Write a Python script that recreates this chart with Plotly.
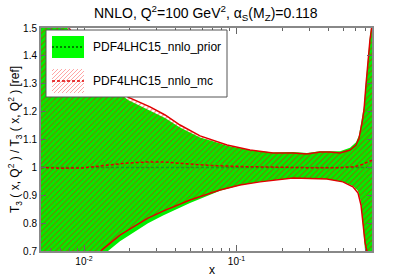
import plotly.graph_objects as go

# ---------------- data ----------------
# PDF4LHC15_nnlo_mc band (red hatched)
mc_x = [0.00522, 0.00697, 0.00941, 0.01274, 0.01945, 0.02710, 0.03400, 0.04263,
        0.05768, 0.07015, 0.08669, 0.1227, 0.1735, 0.2345, 0.2897, 0.3530,
        0.4105, 0.4775, 0.5550, 0.6080, 0.6360, 0.6650, 0.6855, 0.7065,
        0.7280, 0.7500, 0.7735]
mc_up = [1.80, 1.55, 1.439, 1.331, 1.252, 1.217, 1.188, 1.152,
         1.113, 1.098, 1.080, 1.062, 1.052, 1.052, 1.048, 1.055,
         1.055, 1.052, 1.062, 1.080, 1.105, 1.159, 1.206, 1.296,
         1.385, 1.457, 1.51]

mc_lo_x = [0.00522, 0.00697, 0.00941, 0.01312, 0.01437, 0.01721, 0.02094, 0.02628,
           0.03296, 0.04954, 0.07793, 0.1054, 0.1426, 0.2345, 0.3917, 0.4986,
           0.5803, 0.6266, 0.6553, 0.6754, 0.6961, 0.7175, 0.7500, 0.7735]
mc_lo = [0.30, 0.45, 0.60, 0.704, 0.722, 0.757, 0.786, 0.818,
         0.843, 0.883, 0.919, 0.937, 0.948, 0.962, 0.958, 0.948,
         0.930, 0.908, 0.865, 0.793, 0.732, 0.696, 0.60, 0.50]

# PDF4LHC15_nnlo_prior band (green)
pr_up = [1.80, 1.54, 1.43, 1.32, 1.242, 1.205, 1.177, 1.143,
         1.107, 1.094, 1.078, 1.062, 1.053, 1.055, 1.052, 1.058,
         1.058, 1.058, 1.070, 1.090, 1.115, 1.170, 1.220, 1.310,
         1.400, 1.470, 1.53]
pr_lo = [0.25, 0.40, 0.55, 0.68, 0.70, 0.735, 0.766, 0.800,
         0.827, 0.872, 0.916, 0.936, 0.948, 0.962, 0.958, 0.948,
         0.933, 0.915, 0.875, 0.800, 0.735, 0.68, 0.55, 0.40]

# central values
c_x = [0.00522, 0.00697, 0.00985, 0.01416, 0.01857, 0.02512, 0.0340, 0.04954,
       0.0670, 0.1054, 0.1735, 0.2897, 0.4775, 0.5984, 0.6650, 0.7175, 0.7735]
mc_c = [1.0, 0.997, 0.998, 1.008, 1.015, 1.019, 1.019, 1.012,
        1.007, 1.003, 1.0, 0.999, 0.999, 1.003, 1.01, 1.018, 1.026]
pr_c = [1.0] * len(c_x)

y_ticks = [0.7, 0.8, 0.9, 1.0, 1.1, 1.2, 1.3, 1.4, 1.5]
y_ticklabels = ["0.7", "0.8", "0.9", "1", "1.1", "1.2", "1.3", "1.4", "1.5"]
x_ticks = [0.01, 0.1]
x_ticklabels = ["10<sup>-2</sup>", "10<sup>-1</sup>"]
x_minor = [0.006, 0.007, 0.008, 0.009, 0.02, 0.03, 0.04, 0.05, 0.06, 0.07, 0.08, 0.09,
           0.2, 0.3, 0.4, 0.5, 0.6, 0.7]
names = ["PDF4LHC15_nnlo_prior", "PDF4LHC15_nnlo_mc"]

FONT = "Liberation Sans, Arial, sans-serif"
GREEN = "#00ee00"
RED = "#e00000"

fig = go.Figure()
# prior band
fig.add_trace(go.Scatter(x=mc_lo_x, y=pr_lo, mode="lines", line=dict(width=0),
                         showlegend=False, hoverinfo="skip"))
fig.add_trace(go.Scatter(x=mc_x, y=pr_up, mode="lines", line=dict(width=0),
                         fill="tonexty", fillcolor=GREEN, showlegend=False, hoverinfo="skip"))
# mc band
fig.add_trace(go.Scatter(x=mc_lo_x, y=mc_lo, mode="lines", line=dict(width=1.5, color=RED),
                         showlegend=False, hoverinfo="skip"))
fig.add_trace(go.Scatter(x=mc_x, y=mc_up, mode="lines", line=dict(width=1.5, color=RED),
                         fill="tonexty",
                         fillpattern=dict(shape="/", fgcolor="#ff0000", fgopacity=0.55,
                                          bgcolor="rgba(0,0,0,0)", size=4, solidity=0.25,
                                          fillmode="replace"),
                         showlegend=False, hoverinfo="skip"))
# centrals
fig.add_trace(go.Scatter(x=c_x, y=pr_c, mode="lines",
                         line=dict(width=1.5, color="#1a9a1a", dash="3px,2px"),
                         showlegend=False, hoverinfo="skip"))
fig.add_trace(go.Scatter(x=c_x, y=mc_c, mode="lines",
                         line=dict(width=1.5, color=RED, dash="3px,2px"),
                         showlegend=False, hoverinfo="skip"))

W, H = 413, 280
# plot area in page pixels
L, R, T, B = 41, 372, 28, 251


def px(xp):
    return (xp - L) / (R - L)


def py(yp):
    return (B - yp) / (B - T)


shapes = []
# legend box
shapes.append(dict(type="rect", xref="paper", yref="paper", x0=px(46), x1=px(227),
                   y0=py(97), y1=py(30), fillcolor="white", line=dict(color="#555", width=1)))
# prior glyph
shapes.append(dict(type="rect", xref="paper", yref="paper", x0=px(52), x1=px(84),
                   y0=py(58), y1=py(36), fillcolor="#00ff00", line=dict(width=0)))
shapes.append(dict(type="line", xref="paper", yref="paper", x0=px(52), x1=px(84),
                   y0=py(47), y1=py(47), line=dict(color="black", width=1, dash="2px,2px")))
# mc glyph: hatch lines
gx0, gx1, gy0, gy1 = 52, 84, 69, 93
c = gx0 + gy0 + 2
while c < gx1 + gy1:
    xa = max(gx0, c - gy1)
    xb = min(gx1, c - gy0)
    if xb > xa:
        shapes.append(dict(type="line", xref="paper", yref="paper",
                           x0=px(xa), y0=py(c - xa), x1=px(xb), y1=py(c - xb),
                           line=dict(color="rgba(255,0,0,0.35)", width=1)))
    c += 4
shapes.append(dict(type="line", xref="paper", yref="paper", x0=px(52), x1=px(84),
                   y0=py(81), y1=py(81), line=dict(color=RED, width=1.5, dash="3px,2px")))

annotations = [
    dict(xref="paper", yref="paper", x=px(91), y=py(47), text=names[0], showarrow=False,
         xanchor="left", yanchor="middle", font=dict(family=FONT, size=12, color="black")),
    dict(xref="paper", yref="paper", x=px(91), y=py(81), text=names[1], showarrow=False,
         xanchor="left", yanchor="middle", font=dict(family=FONT, size=12, color="black")),
    dict(xref="paper", yref="paper", x=px(212), y=py(270), text="x", showarrow=False,
         xanchor="center", yanchor="middle", font=dict(family=FONT, size=12, color="black")),
    dict(xref="paper", yref="paper", x=px(15), y=py(140),
         text="T<sub>3</sub> ( x, Q<sup>2</sup> ) / T<sub>3</sub> ( x, Q<sup>2</sup> ) [ref]",
         showarrow=False, textangle=-90, xanchor="center", yanchor="middle",
         font=dict(family=FONT, size=12, color="black")),
    dict(xref="paper", yref="paper", x=px(206), y=py(13),
         text="NNLO, Q<sup>2</sup>=100 GeV<sup>2</sup>, α<sub>S</sub>(M<sub>Z</sub>)=0.118",
         showarrow=False, xanchor="center", yanchor="middle",
         font=dict(family=FONT, size=14, color="black")),
]

fig.update_layout(
    width=W, height=H,
    margin=dict(l=L, r=W - R, t=T, b=H - B, pad=0),
    paper_bgcolor="white", plot_bgcolor="white",
    showlegend=False, hovermode=False,
    shapes=shapes, annotations=annotations,
    font=dict(family=FONT, size=10, color="black"),
)
fig.update_xaxes(type="log", range=[-2.282, -0.1115], tickmode="array",
                 tickvals=x_ticks, ticktext=x_ticklabels,
                 ticks="inside", ticklen=6, tickcolor="#666", tickwidth=1,
                 minor=dict(tickmode="array", tickvals=x_minor, ticks="inside",
                            ticklen=3, tickcolor="#666", tickwidth=1),
                 showline=True, linecolor="#888", linewidth=2, mirror="allticks",
                 showgrid=False, zeroline=False, tickfont=dict(size=10, family=FONT))
fig.update_yaxes(range=[0.7, 1.5], tickmode="array", tickvals=y_ticks,
                 ticktext=y_ticklabels,
                 ticks="inside", ticklen=5, tickcolor="#666", tickwidth=1,
                 showline=True, linecolor="#888", linewidth=2, mirror="allticks",
                 showgrid=False, zeroline=False, tickfont=dict(size=10, family=FONT))

fig.write_html("out.html",
               config={"displayModeBar": False, "staticPlot": True},
               post_script="document.body.style.margin='0';"
                           "document.body.style.overflow='hidden';")
